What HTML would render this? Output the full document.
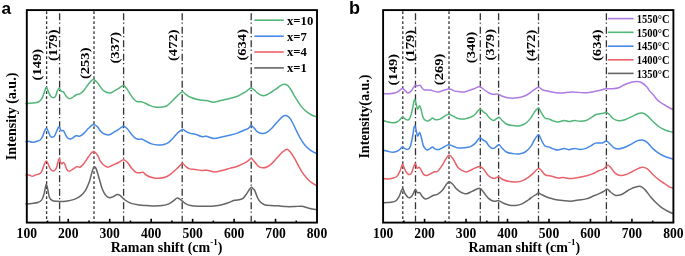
<!DOCTYPE html>
<html><head><meta charset="utf-8"><style>
html,body{margin:0;padding:0;background:#fff;width:685px;height:256px;overflow:hidden;}
svg{display:block;will-change:transform;}
</style></head><body>
<svg width="685" height="256" viewBox="0 0 685 256">
<rect width="685" height="256" fill="#fff"/>
<line x1="46.6" y1="11.2" x2="46.6" y2="221.79999999999998" stroke="#333" stroke-width="1.3" stroke-dasharray="2.7,2.3"/>
<line x1="59.6" y1="13.3" x2="59.6" y2="221.79999999999998" stroke="#333" stroke-width="1.3" stroke-dasharray="7,2.3,1.2,3"/>
<line x1="94.0" y1="11.2" x2="94.0" y2="221.79999999999998" stroke="#333" stroke-width="1.3" stroke-dasharray="2.7,2.3"/>
<line x1="123.6" y1="13.3" x2="123.6" y2="221.79999999999998" stroke="#333" stroke-width="1.3" stroke-dasharray="7,2.3,1.2,3"/>
<line x1="182.2" y1="13.3" x2="182.2" y2="221.79999999999998" stroke="#333" stroke-width="1.3" stroke-dasharray="7,2.3,1.2,3"/>
<line x1="251.2" y1="13.3" x2="251.2" y2="221.79999999999998" stroke="#333" stroke-width="1.3" stroke-dasharray="7,2.3,1.2,3"/>
<line x1="402.8" y1="11.2" x2="402.8" y2="221.79999999999998" stroke="#333" stroke-width="1.3" stroke-dasharray="2.7,2.3"/>
<line x1="415.5" y1="13.3" x2="415.5" y2="221.79999999999998" stroke="#333" stroke-width="1.3" stroke-dasharray="7,2.3,1.2,3"/>
<line x1="449.0" y1="11.2" x2="449.0" y2="221.79999999999998" stroke="#333" stroke-width="1.3" stroke-dasharray="2.7,2.3"/>
<line x1="480.3" y1="13.3" x2="480.3" y2="221.79999999999998" stroke="#333" stroke-width="1.3" stroke-dasharray="7,2.3,1.2,3"/>
<line x1="498.6" y1="13.3" x2="498.6" y2="221.79999999999998" stroke="#333" stroke-width="1.3" stroke-dasharray="7,2.3,1.2,3"/>
<line x1="538.5" y1="13.3" x2="538.5" y2="221.79999999999998" stroke="#333" stroke-width="1.3" stroke-dasharray="7,2.3,1.2,3"/>
<line x1="606.4" y1="13.3" x2="606.4" y2="221.79999999999998" stroke="#333" stroke-width="1.3" stroke-dasharray="7,2.3,1.2,3"/>
<path d="M26.00,103.60 C27.05,103.52 30.22,103.37 32.30,103.10 C34.38,102.83 36.95,102.70 38.50,102.00 C40.05,101.30 40.68,100.33 41.60,98.90 C42.52,97.47 43.22,95.35 44.00,93.40 C44.78,91.45 45.52,87.32 46.30,87.20 C47.08,87.08 47.92,91.13 48.70,92.70 C49.48,94.27 50.23,95.75 51.00,96.60 C51.77,97.45 52.52,97.93 53.30,97.80 C54.08,97.67 55.04,96.92 55.70,95.80 C56.36,94.68 56.68,92.40 57.25,91.10 C57.82,89.80 58.44,88.00 59.10,88.00 C59.76,88.00 60.47,90.45 61.20,91.10 C61.93,91.75 62.73,91.12 63.50,91.90 C64.27,92.68 64.88,94.68 65.80,95.80 C66.72,96.92 67.95,98.27 69.00,98.60 C70.05,98.93 70.93,98.40 72.10,97.80 C73.27,97.20 74.57,95.73 76.00,95.00 C77.43,94.27 79.27,94.32 80.70,93.40 C82.13,92.48 83.30,91.07 84.60,89.50 C85.90,87.93 87.07,85.68 88.50,84.00 C89.93,82.32 91.63,79.52 93.20,79.40 C94.77,79.28 96.77,82.13 97.90,83.30 C99.03,84.47 99.13,85.23 100.00,86.40 C100.87,87.57 102.06,89.32 103.10,90.30 C104.14,91.28 105.07,91.85 106.25,92.30 C107.43,92.75 108.91,93.20 110.20,93.00 C111.49,92.80 112.58,91.87 114.00,91.10 C115.42,90.33 117.18,89.32 118.75,88.40 C120.32,87.48 122.09,85.60 123.40,85.60 C124.71,85.60 125.55,87.10 126.60,88.40 C127.65,89.70 128.53,91.65 129.70,93.40 C130.87,95.15 132.30,97.52 133.60,98.90 C134.90,100.28 136.20,101.23 137.50,101.70 C138.80,102.17 140.10,101.43 141.40,101.70 C142.70,101.97 143.87,102.65 145.30,103.30 C146.73,103.95 148.43,105.00 150.00,105.60 C151.57,106.20 153.13,106.63 154.70,106.90 C156.27,107.17 157.85,107.23 159.40,107.20 C160.95,107.17 162.70,106.97 164.00,106.70 C165.30,106.43 165.88,106.51 167.20,105.60 C168.52,104.69 170.33,102.75 171.90,101.25 C173.47,99.75 174.92,98.16 176.60,96.60 C178.28,95.04 180.45,92.27 182.00,91.90 C183.55,91.53 184.47,93.50 185.90,94.40 C187.33,95.30 188.52,96.42 190.60,97.30 C192.68,98.18 195.79,99.15 198.40,99.70 C201.01,100.25 203.65,100.18 206.25,100.60 C208.85,101.02 211.39,102.27 214.00,102.20 C216.61,102.13 219.28,100.80 221.90,100.20 C224.52,99.60 227.10,99.26 229.70,98.60 C232.30,97.94 235.16,97.22 237.50,96.25 C239.84,95.28 241.93,93.89 243.75,92.80 C245.57,91.71 247.18,90.48 248.40,89.70 C249.62,88.92 250.10,88.05 251.10,88.10 C252.10,88.15 253.33,89.17 254.40,90.00 C255.47,90.83 256.20,92.17 257.50,93.10 C258.80,94.03 260.63,95.33 262.20,95.60 C263.77,95.87 265.33,95.30 266.90,94.70 C268.47,94.10 270.04,92.97 271.60,92.00 C273.16,91.03 274.68,90.02 276.25,88.90 C277.82,87.78 279.57,86.08 281.00,85.30 C282.43,84.52 283.63,84.12 284.80,84.20 C285.97,84.28 286.82,84.62 288.00,85.80 C289.18,86.97 290.67,89.28 291.90,91.25 C293.13,93.22 293.84,95.07 295.40,97.60 C296.96,100.12 299.30,103.97 301.25,106.40 C303.20,108.83 305.31,110.73 307.10,112.20 C308.89,113.67 310.43,114.45 312.00,115.20 C313.57,115.95 315.75,116.45 316.50,116.70" fill="none" stroke="#52b678" stroke-width="1.5" stroke-linejoin="round" stroke-linecap="round"/>
<path d="M26.00,141.90 C26.52,141.79 28.06,141.18 29.10,141.25 C30.14,141.32 30.95,142.30 32.25,142.30 C33.55,142.30 35.59,141.63 36.90,141.25 C38.21,140.87 39.18,140.72 40.10,140.00 C41.02,139.28 41.68,138.33 42.40,136.90 C43.12,135.47 43.75,132.83 44.40,131.40 C45.05,129.97 45.72,128.43 46.30,128.30 C46.88,128.17 47.25,129.30 47.90,130.60 C48.55,131.90 49.42,135.00 50.20,136.10 C50.98,137.20 51.82,137.33 52.60,137.20 C53.38,137.07 54.12,136.53 54.90,135.30 C55.67,134.07 56.55,131.23 57.25,129.80 C57.95,128.37 58.44,126.57 59.10,126.70 C59.76,126.83 60.47,129.95 61.20,130.60 C61.93,131.25 62.73,129.82 63.50,130.60 C64.27,131.38 65.02,134.00 65.80,135.30 C66.58,136.60 67.28,137.83 68.20,138.40 C69.12,138.97 70.00,139.18 71.30,138.75 C72.60,138.32 74.57,136.24 76.00,135.80 C77.43,135.36 78.60,136.50 79.90,136.10 C81.20,135.70 82.37,134.70 83.80,133.40 C85.23,132.10 86.88,129.80 88.50,128.30 C90.12,126.80 91.93,124.58 93.50,124.40 C95.07,124.22 96.82,126.17 97.90,127.20 C98.98,128.23 99.13,129.57 100.00,130.60 C100.87,131.63 101.93,132.70 103.10,133.40 C104.27,134.10 105.82,134.62 107.00,134.80 C108.18,134.98 109.03,134.93 110.20,134.50 C111.37,134.07 112.58,133.05 114.00,132.20 C115.42,131.35 117.18,130.39 118.75,129.40 C120.32,128.41 121.98,126.36 123.40,126.25 C124.83,126.14 125.99,127.44 127.30,128.75 C128.61,130.06 129.93,132.54 131.25,134.10 C132.57,135.66 134.02,137.25 135.20,138.10 C136.38,138.95 137.13,139.02 138.30,139.20 C139.47,139.38 140.90,138.86 142.20,139.20 C143.50,139.54 144.53,140.47 146.10,141.25 C147.67,142.03 149.65,143.28 151.60,143.90 C153.55,144.53 155.73,144.92 157.80,145.00 C159.87,145.08 162.18,144.85 164.00,144.40 C165.82,143.95 167.18,143.42 168.75,142.30 C170.32,141.18 171.84,139.33 173.40,137.70 C174.96,136.07 176.53,133.87 178.10,132.50 C179.67,131.13 181.37,129.60 182.80,129.50 C184.23,129.40 185.40,131.25 186.70,131.90 C188.00,132.55 189.17,133.02 190.60,133.40 C192.03,133.78 193.47,133.67 195.30,134.20 C197.13,134.73 199.78,136.26 201.60,136.60 C203.42,136.94 204.18,135.95 206.25,136.25 C208.32,136.55 211.39,138.29 214.00,138.40 C216.61,138.51 219.28,137.42 221.90,136.90 C224.52,136.38 227.10,135.93 229.70,135.30 C232.30,134.67 235.16,133.93 237.50,133.10 C239.84,132.27 241.93,131.08 243.75,130.30 C245.57,129.52 247.18,129.18 248.40,128.40 C249.62,127.62 250.10,125.60 251.10,125.60 C252.10,125.60 253.33,127.35 254.40,128.40 C255.47,129.45 256.20,131.07 257.50,131.90 C258.80,132.73 260.63,133.33 262.20,133.40 C263.77,133.47 265.22,133.25 266.90,132.30 C268.58,131.35 270.48,129.52 272.30,127.70 C274.12,125.88 276.10,123.23 277.80,121.40 C279.50,119.57 281.20,117.67 282.50,116.70 C283.80,115.73 284.43,115.42 285.60,115.60 C286.77,115.78 288.32,116.57 289.50,117.80 C290.68,119.03 291.53,120.82 292.70,123.00 C293.87,125.18 295.20,128.28 296.50,130.90 C297.80,133.52 299.18,136.43 300.50,138.70 C301.82,140.97 303.10,142.87 304.40,144.50 C305.70,146.13 307.00,147.35 308.30,148.50 C309.60,149.65 310.83,150.60 312.20,151.40 C313.57,152.20 315.78,152.98 316.50,153.30" fill="none" stroke="#4789e6" stroke-width="1.5" stroke-linejoin="round" stroke-linecap="round"/>
<path d="M26.00,175.00 C26.52,175.00 28.06,174.79 29.10,175.00 C30.14,175.21 31.20,176.25 32.25,176.25 C33.30,176.25 34.23,175.39 35.40,175.00 C36.57,174.61 38.27,174.47 39.30,173.90 C40.33,173.33 40.82,173.03 41.60,171.60 C42.38,170.17 43.22,167.08 44.00,165.30 C44.78,163.52 45.52,160.90 46.30,160.90 C47.08,160.90 47.92,163.83 48.70,165.30 C49.48,166.77 50.10,168.78 51.00,169.70 C51.90,170.62 53.18,171.13 54.10,170.80 C55.02,170.47 55.67,169.71 56.50,167.70 C57.33,165.69 58.32,159.41 59.10,158.75 C59.88,158.09 60.47,163.12 61.20,163.75 C61.93,164.38 62.87,162.38 63.50,162.50 C64.13,162.62 64.48,163.38 65.00,164.50 C65.52,165.62 65.93,168.07 66.60,169.20 C67.27,170.32 67.95,171.25 69.00,171.25 C70.05,171.25 71.60,169.97 72.90,169.20 C74.20,168.42 75.63,166.93 76.80,166.60 C77.97,166.27 78.73,167.67 79.90,167.20 C81.07,166.72 82.37,165.50 83.80,163.75 C85.23,162.00 86.88,158.72 88.50,156.70 C90.12,154.67 91.93,151.73 93.50,151.60 C95.07,151.47 96.82,154.40 97.90,155.90 C98.98,157.40 99.13,159.17 100.00,160.60 C100.87,162.03 101.80,163.40 103.10,164.50 C104.40,165.60 106.23,167.07 107.80,167.20 C109.37,167.33 110.67,166.08 112.50,165.30 C114.33,164.52 116.93,163.42 118.75,162.50 C120.57,161.58 121.98,159.85 123.40,159.80 C124.83,159.75 125.99,160.88 127.30,162.20 C128.61,163.52 129.82,166.02 131.25,167.70 C132.68,169.38 134.34,171.45 135.90,172.30 C137.46,173.15 139.42,172.80 140.60,172.80 C141.78,172.80 141.95,171.85 143.00,172.30 C144.05,172.75 145.22,174.58 146.90,175.50 C148.58,176.42 151.02,177.33 153.10,177.80 C155.18,178.27 157.32,178.43 159.40,178.30 C161.48,178.17 163.78,177.65 165.60,177.00 C167.42,176.35 168.73,175.52 170.30,174.40 C171.87,173.28 173.57,171.60 175.00,170.30 C176.43,169.00 177.65,167.75 178.90,166.60 C180.15,165.45 181.33,163.40 182.50,163.40 C183.67,163.40 184.68,165.68 185.90,166.60 C187.12,167.52 188.23,168.43 189.80,168.90 C191.37,169.37 193.33,169.13 195.30,169.40 C197.27,169.67 199.65,170.37 201.60,170.50 C203.55,170.63 204.80,169.95 207.00,170.20 C209.20,170.45 212.32,171.95 214.80,172.00 C217.28,172.05 219.42,171.10 221.90,170.50 C224.38,169.90 227.10,169.11 229.70,168.40 C232.30,167.69 234.90,167.20 237.50,166.25 C240.10,165.30 243.53,163.61 245.30,162.70 C247.07,161.79 247.11,161.48 248.10,160.80 C249.09,160.12 250.20,158.47 251.25,158.60 C252.30,158.73 253.22,160.32 254.40,161.60 C255.58,162.88 257.00,165.22 258.30,166.25 C259.60,167.28 260.77,167.68 262.20,167.80 C263.63,167.93 265.22,167.78 266.90,167.00 C268.58,166.22 270.48,164.78 272.30,163.10 C274.12,161.42 275.97,158.85 277.80,156.90 C279.63,154.95 281.68,152.65 283.30,151.40 C284.92,150.15 286.20,149.13 287.50,149.40 C288.80,149.67 289.85,151.37 291.10,153.00 C292.35,154.63 293.77,157.05 295.00,159.20 C296.23,161.35 297.27,163.65 298.50,165.90 C299.73,168.15 301.10,170.75 302.40,172.70 C303.70,174.65 305.00,176.13 306.30,177.60 C307.60,179.07 308.50,180.13 310.20,181.50 C311.90,182.87 315.45,185.08 316.50,185.80" fill="none" stroke="#eb6169" stroke-width="1.5" stroke-linejoin="round" stroke-linecap="round"/>
<path d="M26.00,204.00 C26.98,203.90 29.95,203.65 31.90,203.40 C33.85,203.15 36.08,203.05 37.70,202.50 C39.32,201.95 40.55,201.47 41.60,200.10 C42.65,198.73 43.35,196.48 44.00,194.30 C44.65,192.12 45.10,188.65 45.50,187.00 C45.90,185.35 46.07,184.27 46.40,184.40 C46.73,184.53 47.00,185.67 47.50,187.80 C48.00,189.93 48.60,195.08 49.40,197.20 C50.20,199.32 51.00,199.82 52.30,200.50 C53.60,201.18 55.40,201.13 57.20,201.30 C59.00,201.47 61.15,201.60 63.10,201.50 C65.05,201.40 66.95,201.10 68.90,200.70 C70.85,200.30 72.85,199.92 74.80,199.10 C76.75,198.28 78.82,197.25 80.60,195.80 C82.38,194.35 84.03,192.77 85.50,190.40 C86.97,188.03 88.27,184.85 89.40,181.60 C90.53,178.35 91.48,173.33 92.30,170.90 C93.12,168.47 93.65,167.33 94.30,167.00 C94.95,166.67 95.38,166.95 96.20,168.90 C97.02,170.85 98.18,175.33 99.20,178.70 C100.22,182.07 101.25,186.38 102.30,189.10 C103.35,191.82 104.32,193.57 105.50,195.00 C106.68,196.43 108.10,197.43 109.40,197.70 C110.70,197.97 112.00,197.13 113.30,196.60 C114.60,196.07 116.03,194.67 117.20,194.50 C118.37,194.33 119.00,194.68 120.30,195.60 C121.60,196.52 123.17,198.70 125.00,200.00 C126.83,201.30 128.92,202.57 131.25,203.40 C133.58,204.23 136.39,204.65 139.00,205.00 C141.61,205.35 144.28,205.35 146.90,205.50 C149.52,205.65 152.10,205.90 154.70,205.90 C157.30,205.90 160.16,205.83 162.50,205.50 C164.84,205.17 166.93,204.68 168.75,203.90 C170.57,203.12 171.94,201.77 173.40,200.80 C174.86,199.83 176.07,198.10 177.50,198.10 C178.93,198.10 180.60,199.83 182.00,200.80 C183.40,201.77 184.47,203.12 185.90,203.90 C187.33,204.68 188.52,205.11 190.60,205.50 C192.68,205.89 195.79,206.12 198.40,206.25 C201.01,206.38 203.65,206.31 206.25,206.25 C208.85,206.19 211.39,206.16 214.00,205.90 C216.61,205.64 219.55,205.22 221.90,204.70 C224.25,204.18 226.02,203.53 228.10,202.80 C230.18,202.07 232.58,200.82 234.40,200.30 C236.22,199.78 237.57,200.02 239.00,199.70 C240.43,199.38 241.68,199.45 243.00,198.40 C244.32,197.35 245.78,194.97 246.90,193.40 C248.02,191.83 248.93,190.02 249.70,189.00 C250.47,187.98 250.93,187.34 251.50,187.30 C252.07,187.26 252.55,188.20 253.10,188.75 C253.65,189.30 254.03,189.06 254.80,190.60 C255.57,192.14 256.73,196.05 257.70,198.00 C258.67,199.95 259.47,201.18 260.60,202.30 C261.73,203.42 262.87,204.15 264.50,204.70 C266.13,205.25 268.12,205.42 270.40,205.60 C272.68,205.78 275.60,205.63 278.20,205.80 C280.80,205.97 283.40,206.47 286.00,206.60 C288.60,206.73 291.20,206.67 293.80,206.60 C296.40,206.53 299.33,206.00 301.60,206.20 C303.87,206.40 305.62,207.32 307.40,207.80 C309.18,208.28 310.78,208.78 312.30,209.10 C313.82,209.42 315.80,209.60 316.50,209.70" fill="none" stroke="#656565" stroke-width="1.5" stroke-linejoin="round" stroke-linecap="round"/>
<path d="M383.00,93.75 C384.04,93.75 387.17,93.92 389.25,93.75 C391.33,93.58 393.81,93.23 395.50,92.70 C397.19,92.17 398.23,91.32 399.40,90.60 C400.57,89.88 401.45,88.32 402.50,88.40 C403.55,88.48 404.78,90.32 405.70,91.10 C406.62,91.88 407.10,93.10 408.00,93.10 C408.90,93.10 409.93,92.35 411.10,91.10 C412.27,89.85 413.95,86.43 415.00,85.60 C416.05,84.77 416.57,86.15 417.40,86.10 C418.23,86.05 419.22,84.98 420.00,85.30 C420.78,85.62 421.37,87.22 422.10,88.00 C422.83,88.78 423.10,89.67 424.40,90.00 C425.70,90.33 427.68,89.68 429.90,90.00 C432.12,90.32 435.37,91.85 437.70,91.90 C440.03,91.95 441.95,90.77 443.90,90.30 C445.85,89.83 447.57,88.97 449.40,89.10 C451.23,89.23 453.47,90.68 454.90,91.10 C456.33,91.52 456.44,91.47 458.00,91.60 C459.56,91.73 462.17,92.17 464.25,91.90 C466.33,91.63 468.68,90.58 470.50,90.00 C472.32,89.42 473.68,89.00 475.20,88.40 C476.72,87.80 478.17,86.22 479.60,86.40 C481.03,86.58 482.32,88.45 483.80,89.50 C485.28,90.55 487.07,91.92 488.50,92.70 C489.93,93.48 490.77,93.95 492.40,94.20 C494.03,94.45 496.62,93.86 498.30,94.20 C499.98,94.54 500.88,95.65 502.50,96.25 C504.12,96.85 506.04,97.49 508.00,97.80 C509.96,98.11 512.17,98.18 514.25,98.10 C516.33,98.02 518.42,97.82 520.50,97.30 C522.58,96.78 524.80,96.03 526.75,95.00 C528.70,93.97 530.64,92.20 532.20,91.10 C533.76,90.00 534.98,89.05 536.10,88.40 C537.22,87.75 537.85,86.98 538.90,87.20 C539.95,87.42 540.78,89.03 542.40,89.70 C544.02,90.38 545.73,90.68 548.60,91.25 C551.47,91.82 555.70,92.99 559.60,93.10 C563.50,93.21 568.10,91.95 572.00,91.90 C575.90,91.85 579.60,92.80 583.00,92.80 C586.40,92.80 589.53,92.32 592.40,91.90 C595.27,91.48 597.89,90.83 600.20,90.30 C602.51,89.77 604.20,89.01 606.25,88.75 C608.30,88.49 610.42,88.92 612.50,88.75 C614.58,88.58 616.67,88.41 618.75,87.70 C620.83,86.99 622.92,85.42 625.00,84.50 C627.08,83.58 629.30,82.72 631.25,82.20 C633.20,81.68 635.01,81.35 636.70,81.40 C638.39,81.45 639.70,81.58 641.40,82.50 C643.10,83.42 645.55,85.50 646.90,86.90 C648.25,88.30 648.47,89.63 649.50,90.90 C650.53,92.17 651.85,93.07 653.10,94.50 C654.35,95.93 655.64,98.08 657.00,99.50 C658.36,100.92 659.95,102.08 661.25,103.00 C662.55,103.92 663.82,104.42 664.80,105.00 C665.77,105.58 665.80,105.77 667.10,106.50 C668.40,107.23 671.68,108.92 672.60,109.40" fill="none" stroke="#ae7be2" stroke-width="1.5" stroke-linejoin="round" stroke-linecap="round"/>
<path d="M383.00,120.50 C383.78,120.75 386.13,121.62 387.70,122.00 C389.27,122.38 390.85,122.80 392.40,122.80 C393.95,122.80 395.70,122.57 397.00,122.00 C398.30,121.43 399.28,120.25 400.20,119.40 C401.12,118.55 401.72,116.98 402.50,116.90 C403.28,116.82 403.98,118.38 404.90,118.90 C405.82,119.42 407.10,120.28 408.00,120.00 C408.90,119.72 409.52,119.20 410.30,117.20 C411.08,115.20 412.12,110.53 412.70,108.00 C413.28,105.47 413.42,103.40 413.80,102.00 C414.18,100.60 414.60,99.27 415.00,99.60 C415.40,99.93 415.77,102.43 416.20,104.00 C416.63,105.57 417.02,108.68 417.60,109.00 C418.18,109.32 419.05,105.57 419.70,105.90 C420.35,106.23 420.92,109.02 421.50,111.00 C422.08,112.98 422.53,116.25 423.20,117.80 C423.87,119.35 424.65,119.78 425.50,120.30 C426.35,120.82 427.43,121.05 428.30,120.90 C429.17,120.75 429.97,119.87 430.70,119.40 C431.43,118.93 431.93,118.05 432.70,118.10 C433.47,118.15 434.21,119.48 435.30,119.70 C436.39,119.92 437.82,119.92 439.25,119.40 C440.68,118.88 442.34,117.47 443.90,116.60 C445.46,115.73 447.03,114.26 448.60,114.20 C450.17,114.14 451.73,115.55 453.30,116.25 C454.87,116.95 456.18,117.96 458.00,118.40 C459.82,118.84 462.17,119.08 464.25,118.90 C466.33,118.72 468.68,118.08 470.50,117.30 C472.32,116.52 473.68,115.57 475.20,114.20 C476.72,112.83 478.30,109.53 479.60,109.10 C480.90,108.67 481.92,110.82 483.00,111.60 C484.08,112.38 485.06,112.72 486.10,113.75 C487.14,114.78 488.07,116.67 489.25,117.80 C490.43,118.92 492.02,120.32 493.20,120.50 C494.38,120.68 495.33,119.43 496.30,118.90 C497.27,118.37 498.09,117.12 499.00,117.30 C499.91,117.48 500.52,118.88 501.75,120.00 C502.98,121.12 504.57,123.07 506.40,124.00 C508.22,124.93 510.62,125.28 512.70,125.60 C514.78,125.92 516.82,126.23 518.90,125.90 C520.98,125.57 523.23,124.90 525.20,123.60 C527.17,122.30 529.13,120.05 530.70,118.10 C532.27,116.15 533.30,113.58 534.60,111.90 C535.90,110.22 537.47,108.00 538.50,108.00 C539.53,108.00 539.77,110.27 540.80,111.90 C541.83,113.53 543.40,116.63 544.70,117.80 C546.00,118.97 547.17,118.38 548.60,118.90 C550.03,119.42 551.73,120.38 553.30,120.90 C554.87,121.42 556.17,122.07 558.00,122.00 C559.83,121.93 562.42,120.57 564.25,120.50 C566.08,120.43 567.31,121.60 569.00,121.60 C570.69,121.60 572.58,120.56 574.40,120.50 C576.22,120.44 577.95,121.25 579.90,121.25 C581.85,121.25 584.28,121.08 586.10,120.50 C587.92,119.92 589.23,118.77 590.80,117.80 C592.37,116.83 593.93,115.38 595.50,114.70 C597.07,114.03 598.93,113.97 600.20,113.75 C601.47,113.53 602.13,113.66 603.10,113.40 C604.07,113.14 604.95,112.02 606.00,112.20 C607.05,112.38 608.18,113.41 609.40,114.50 C610.62,115.59 611.74,117.70 613.30,118.75 C614.86,119.80 616.80,120.64 618.75,120.80 C620.70,120.96 622.92,120.35 625.00,119.70 C627.08,119.05 629.17,117.89 631.25,116.90 C633.33,115.91 635.67,114.40 637.50,113.75 C639.33,113.10 640.63,112.74 642.20,113.00 C643.77,113.26 645.08,113.87 646.90,115.30 C648.72,116.73 651.02,119.65 653.10,121.60 C655.18,123.55 657.32,125.57 659.40,127.00 C661.48,128.43 663.42,129.33 665.60,130.20 C667.78,131.07 671.35,131.87 672.50,132.20" fill="none" stroke="#52b678" stroke-width="1.5" stroke-linejoin="round" stroke-linecap="round"/>
<path d="M383.00,150.20 C383.78,150.38 386.13,150.92 387.70,151.25 C389.27,151.58 390.85,152.20 392.40,152.20 C393.95,152.20 395.70,151.77 397.00,151.25 C398.30,150.73 399.28,149.81 400.20,149.10 C401.12,148.39 401.72,147.08 402.50,147.00 C403.28,146.92 403.98,148.20 404.90,148.60 C405.82,149.00 407.10,149.73 408.00,149.40 C408.90,149.07 409.52,148.83 410.30,146.60 C411.08,144.37 412.12,139.03 412.70,136.00 C413.28,132.97 413.42,130.05 413.80,128.40 C414.18,126.75 414.60,125.75 415.00,126.10 C415.40,126.45 415.77,128.85 416.20,130.50 C416.63,132.15 417.02,135.65 417.60,136.00 C418.18,136.35 419.05,132.27 419.70,132.60 C420.35,132.93 420.92,135.87 421.50,138.00 C422.08,140.13 422.43,143.48 423.20,145.40 C423.97,147.32 425.25,148.78 426.10,149.50 C426.95,150.22 427.53,149.93 428.30,149.70 C429.07,149.47 429.97,148.55 430.70,148.10 C431.43,147.65 431.93,146.83 432.70,147.00 C433.47,147.17 434.21,148.70 435.30,149.10 C436.39,149.50 437.82,149.75 439.25,149.40 C440.68,149.05 442.34,147.78 443.90,147.00 C445.46,146.22 447.03,144.82 448.60,144.70 C450.17,144.57 451.73,145.70 453.30,146.25 C454.87,146.80 456.18,147.74 458.00,148.00 C459.82,148.26 462.17,148.03 464.25,147.80 C466.33,147.57 468.68,147.33 470.50,146.60 C472.32,145.87 473.68,144.83 475.20,143.40 C476.72,141.97 478.30,138.57 479.60,138.00 C480.90,137.43 481.92,139.35 483.00,140.00 C484.08,140.65 485.06,140.86 486.10,141.90 C487.14,142.94 488.15,145.13 489.25,146.25 C490.35,147.37 491.52,148.54 492.70,148.60 C493.88,148.66 495.25,147.25 496.30,146.60 C497.35,145.95 498.09,144.50 499.00,144.70 C499.91,144.90 500.52,146.58 501.75,147.80 C502.98,149.02 504.57,151.03 506.40,152.00 C508.22,152.97 510.62,153.27 512.70,153.60 C514.78,153.93 516.82,154.27 518.90,154.00 C520.98,153.73 523.23,153.23 525.20,152.00 C527.17,150.77 529.13,148.68 530.70,146.60 C532.27,144.52 533.30,141.47 534.60,139.50 C535.90,137.53 537.47,134.93 538.50,134.80 C539.53,134.68 539.77,136.92 540.80,138.75 C541.83,140.58 543.40,144.44 544.70,145.80 C546.00,147.16 547.17,146.38 548.60,146.90 C550.03,147.42 551.73,148.38 553.30,148.90 C554.87,149.42 556.17,150.05 558.00,150.00 C559.83,149.95 562.42,148.65 564.25,148.60 C566.08,148.55 567.31,149.73 569.00,149.70 C570.69,149.67 572.58,148.45 574.40,148.40 C576.22,148.35 577.95,149.40 579.90,149.40 C581.85,149.40 584.28,149.00 586.10,148.40 C587.92,147.80 589.23,146.68 590.80,145.80 C592.37,144.92 593.93,143.55 595.50,143.10 C597.07,142.65 598.93,143.17 600.20,143.10 C601.47,143.03 602.09,143.03 603.10,142.70 C604.11,142.37 605.20,140.98 606.25,141.10 C607.30,141.22 608.11,142.28 609.40,143.40 C610.69,144.52 612.44,146.88 614.00,147.80 C615.56,148.72 616.92,148.98 618.75,148.90 C620.58,148.82 622.92,148.08 625.00,147.30 C627.08,146.52 629.17,145.32 631.25,144.20 C633.33,143.08 635.67,141.30 637.50,140.60 C639.33,139.90 640.63,139.73 642.20,140.00 C643.77,140.27 645.08,140.72 646.90,142.20 C648.72,143.68 651.02,147.00 653.10,148.90 C655.18,150.80 657.32,152.30 659.40,153.60 C661.48,154.90 663.42,155.82 665.60,156.70 C667.78,157.58 671.35,158.53 672.50,158.90" fill="none" stroke="#4789e6" stroke-width="1.5" stroke-linejoin="round" stroke-linecap="round"/>
<path d="M383.00,178.30 C383.78,178.42 386.13,179.00 387.70,179.00 C389.27,179.00 390.85,178.76 392.40,178.30 C393.95,177.84 395.70,177.55 397.00,176.25 C398.30,174.95 399.28,172.51 400.20,170.50 C401.12,168.49 401.72,164.33 402.50,164.20 C403.28,164.07 403.98,168.05 404.90,169.70 C405.82,171.35 406.97,173.45 408.00,174.10 C409.03,174.75 410.18,174.73 411.10,173.60 C412.02,172.47 412.80,169.00 413.50,167.30 C414.20,165.60 414.72,163.27 415.30,163.40 C415.88,163.53 416.34,167.45 417.00,168.10 C417.66,168.75 418.53,166.90 419.25,167.30 C419.97,167.70 420.57,169.32 421.30,170.50 C422.03,171.68 422.69,173.55 423.60,174.40 C424.51,175.25 425.70,175.65 426.75,175.60 C427.80,175.55 428.72,174.70 429.90,174.10 C431.07,173.50 432.50,172.47 433.80,172.00 C435.10,171.53 436.27,172.42 437.70,171.25 C439.13,170.08 441.10,166.96 442.40,165.00 C443.70,163.04 444.42,161.12 445.50,159.50 C446.58,157.88 447.73,155.55 448.90,155.30 C450.07,155.05 451.25,156.38 452.50,158.00 C453.75,159.62 455.48,163.42 456.40,165.00 C457.32,166.58 457.08,166.62 458.00,167.50 C458.92,168.38 460.47,169.57 461.90,170.30 C463.33,171.03 464.92,172.03 466.60,171.90 C468.28,171.77 469.83,170.42 472.00,169.50 C474.17,168.58 477.63,166.40 479.60,166.40 C481.57,166.40 482.32,167.93 483.80,169.50 C485.28,171.07 486.82,174.32 488.50,175.80 C490.18,177.28 492.22,178.22 493.90,178.40 C495.58,178.58 497.03,176.68 498.60,176.90 C500.17,177.12 501.47,178.92 503.30,179.70 C505.13,180.48 507.52,181.22 509.60,181.60 C511.68,181.98 513.73,182.12 515.80,182.00 C517.87,181.88 519.92,181.68 522.00,180.90 C524.08,180.12 526.33,178.67 528.30,177.30 C530.27,175.93 532.50,173.87 533.80,172.70 C535.10,171.53 535.25,171.02 536.10,170.30 C536.95,169.58 537.98,168.32 538.90,168.40 C539.82,168.48 540.50,169.70 541.60,170.80 C542.70,171.90 543.81,174.09 545.50,175.00 C547.19,175.91 549.67,175.73 551.75,176.25 C553.83,176.77 556.04,177.89 558.00,178.10 C559.96,178.31 561.55,177.42 563.50,177.50 C565.45,177.58 567.49,178.55 569.70,178.60 C571.91,178.65 574.27,178.19 576.75,177.80 C579.23,177.41 581.99,176.90 584.60,176.25 C587.21,175.60 590.07,174.81 592.40,173.90 C594.73,172.99 596.78,171.58 598.60,170.80 C600.42,170.02 601.77,170.13 603.30,169.20 C604.83,168.27 606.53,165.45 607.80,165.20 C609.07,164.95 609.73,166.43 610.90,167.70 C612.07,168.97 613.23,171.50 614.80,172.80 C616.37,174.10 618.33,175.23 620.30,175.50 C622.27,175.77 624.52,175.11 626.60,174.40 C628.68,173.69 630.73,172.30 632.80,171.25 C634.87,170.20 637.30,168.78 639.00,168.10 C640.70,167.42 641.55,167.02 643.00,167.20 C644.45,167.38 646.02,167.95 647.70,169.20 C649.38,170.45 651.15,172.87 653.10,174.70 C655.05,176.53 657.45,178.69 659.40,180.20 C661.35,181.71 663.18,182.63 664.80,183.75 C666.42,184.87 667.82,186.19 669.10,186.90 C670.38,187.61 671.93,187.82 672.50,188.00" fill="none" stroke="#eb6169" stroke-width="1.5" stroke-linejoin="round" stroke-linecap="round"/>
<path d="M383.00,202.80 C383.78,202.75 386.13,202.63 387.70,202.50 C389.27,202.37 390.97,202.33 392.40,202.00 C393.83,201.67 395.13,201.53 396.30,200.50 C397.47,199.47 398.37,197.76 399.40,195.80 C400.43,193.84 401.58,189.15 402.50,188.75 C403.42,188.35 403.98,191.97 404.90,193.40 C405.82,194.83 406.97,196.72 408.00,197.30 C409.03,197.88 410.18,197.60 411.10,196.90 C412.02,196.20 412.80,194.33 413.50,193.10 C414.20,191.87 414.65,189.57 415.30,189.50 C415.95,189.43 416.67,192.17 417.40,192.70 C418.13,193.23 418.92,192.11 419.70,192.70 C420.48,193.29 421.18,195.22 422.10,196.25 C423.02,197.28 424.03,198.64 425.20,198.90 C426.37,199.16 427.80,198.37 429.10,197.80 C430.40,197.23 431.57,196.10 433.00,195.50 C434.43,194.90 436.13,195.07 437.70,194.20 C439.27,193.33 441.10,191.73 442.40,190.30 C443.70,188.87 444.42,187.03 445.50,185.60 C446.58,184.17 447.73,181.97 448.90,181.70 C450.07,181.43 451.25,182.82 452.50,184.00 C453.75,185.18 455.10,187.43 456.40,188.75 C457.70,190.07 459.20,191.18 460.30,191.90 C461.40,192.62 461.95,192.79 463.00,193.10 C464.05,193.41 465.10,194.03 466.60,193.75 C468.10,193.47 469.83,192.31 472.00,191.40 C474.17,190.49 477.63,188.12 479.60,188.30 C481.57,188.48 482.32,190.82 483.80,192.50 C485.28,194.18 486.82,196.94 488.50,198.40 C490.18,199.86 492.22,200.85 493.90,201.25 C495.58,201.65 497.03,200.49 498.60,200.80 C500.17,201.11 501.47,202.37 503.30,203.10 C505.13,203.83 507.52,204.80 509.60,205.20 C511.68,205.60 513.73,205.72 515.80,205.50 C517.87,205.28 519.92,204.82 522.00,203.90 C524.08,202.98 526.38,201.32 528.30,200.00 C530.22,198.68 532.20,196.88 533.50,196.00 C534.80,195.12 535.27,195.18 536.10,194.70 C536.93,194.22 537.45,193.05 538.50,193.10 C539.55,193.15 540.72,194.22 542.40,195.00 C544.08,195.78 546.52,197.07 548.60,197.80 C550.68,198.53 552.55,198.95 554.90,199.40 C557.25,199.85 560.10,200.19 562.70,200.50 C565.30,200.81 567.90,201.33 570.50,201.25 C573.10,201.17 575.70,200.39 578.30,200.00 C580.90,199.61 583.50,199.60 586.10,198.90 C588.70,198.20 591.55,196.77 593.90,195.80 C596.25,194.83 598.50,193.88 600.20,193.10 C601.90,192.32 602.92,191.73 604.10,191.10 C605.28,190.47 606.23,189.15 607.30,189.30 C608.37,189.45 609.12,190.97 610.50,192.00 C611.88,193.03 613.77,195.08 615.60,195.50 C617.43,195.92 619.55,195.25 621.50,194.50 C623.45,193.75 625.35,192.13 627.30,191.00 C629.25,189.87 631.08,188.50 633.20,187.70 C635.32,186.90 638.05,185.88 640.00,186.20 C641.95,186.52 643.12,187.82 644.90,189.60 C646.68,191.38 648.75,194.62 650.70,196.90 C652.65,199.18 654.65,201.42 656.60,203.30 C658.55,205.18 660.45,206.83 662.40,208.20 C664.35,209.57 666.62,210.63 668.30,211.50 C669.98,212.37 671.80,213.08 672.50,213.40" fill="none" stroke="#656565" stroke-width="1.5" stroke-linejoin="round" stroke-linecap="round"/>
<rect x="26.8" y="10.1" width="290.20" height="212.50" fill="none" stroke="#000" stroke-width="1.9"/>
<line x1="47.53" y1="222.6" x2="47.53" y2="220.60" stroke="#000" stroke-width="1.6"/>
<line x1="68.26" y1="222.6" x2="68.26" y2="218.80" stroke="#000" stroke-width="1.6"/>
<line x1="88.99" y1="222.6" x2="88.99" y2="220.60" stroke="#000" stroke-width="1.6"/>
<line x1="109.71" y1="222.6" x2="109.71" y2="218.80" stroke="#000" stroke-width="1.6"/>
<line x1="130.44" y1="222.6" x2="130.44" y2="220.60" stroke="#000" stroke-width="1.6"/>
<line x1="151.17" y1="222.6" x2="151.17" y2="218.80" stroke="#000" stroke-width="1.6"/>
<line x1="171.90" y1="222.6" x2="171.90" y2="220.60" stroke="#000" stroke-width="1.6"/>
<line x1="192.63" y1="222.6" x2="192.63" y2="218.80" stroke="#000" stroke-width="1.6"/>
<line x1="213.36" y1="222.6" x2="213.36" y2="220.60" stroke="#000" stroke-width="1.6"/>
<line x1="234.09" y1="222.6" x2="234.09" y2="218.80" stroke="#000" stroke-width="1.6"/>
<line x1="254.81" y1="222.6" x2="254.81" y2="220.60" stroke="#000" stroke-width="1.6"/>
<line x1="275.54" y1="222.6" x2="275.54" y2="218.80" stroke="#000" stroke-width="1.6"/>
<line x1="296.27" y1="222.6" x2="296.27" y2="220.60" stroke="#000" stroke-width="1.6"/>
<text x="26.80" y="238.1" font-family='"Liberation Serif", serif' font-weight="bold" font-size="13.6" text-anchor="middle">100</text>
<text x="68.26" y="238.1" font-family='"Liberation Serif", serif' font-weight="bold" font-size="13.6" text-anchor="middle">200</text>
<text x="109.71" y="238.1" font-family='"Liberation Serif", serif' font-weight="bold" font-size="13.6" text-anchor="middle">300</text>
<text x="151.17" y="238.1" font-family='"Liberation Serif", serif' font-weight="bold" font-size="13.6" text-anchor="middle">400</text>
<text x="192.63" y="238.1" font-family='"Liberation Serif", serif' font-weight="bold" font-size="13.6" text-anchor="middle">500</text>
<text x="234.09" y="238.1" font-family='"Liberation Serif", serif' font-weight="bold" font-size="13.6" text-anchor="middle">600</text>
<text x="275.54" y="238.1" font-family='"Liberation Serif", serif' font-weight="bold" font-size="13.6" text-anchor="middle">700</text>
<text x="317.00" y="238.1" font-family='"Liberation Serif", serif' font-weight="bold" font-size="13.6" text-anchor="middle">800</text>
<rect x="383.1" y="10.1" width="290.30" height="212.50" fill="none" stroke="#000" stroke-width="1.9"/>
<line x1="403.84" y1="222.6" x2="403.84" y2="220.60" stroke="#000" stroke-width="1.6"/>
<line x1="424.57" y1="222.6" x2="424.57" y2="218.80" stroke="#000" stroke-width="1.6"/>
<line x1="445.31" y1="222.6" x2="445.31" y2="220.60" stroke="#000" stroke-width="1.6"/>
<line x1="466.04" y1="222.6" x2="466.04" y2="218.80" stroke="#000" stroke-width="1.6"/>
<line x1="486.78" y1="222.6" x2="486.78" y2="220.60" stroke="#000" stroke-width="1.6"/>
<line x1="507.51" y1="222.6" x2="507.51" y2="218.80" stroke="#000" stroke-width="1.6"/>
<line x1="528.25" y1="222.6" x2="528.25" y2="220.60" stroke="#000" stroke-width="1.6"/>
<line x1="548.99" y1="222.6" x2="548.99" y2="218.80" stroke="#000" stroke-width="1.6"/>
<line x1="569.72" y1="222.6" x2="569.72" y2="220.60" stroke="#000" stroke-width="1.6"/>
<line x1="590.46" y1="222.6" x2="590.46" y2="218.80" stroke="#000" stroke-width="1.6"/>
<line x1="611.19" y1="222.6" x2="611.19" y2="220.60" stroke="#000" stroke-width="1.6"/>
<line x1="631.93" y1="222.6" x2="631.93" y2="218.80" stroke="#000" stroke-width="1.6"/>
<line x1="652.66" y1="222.6" x2="652.66" y2="220.60" stroke="#000" stroke-width="1.6"/>
<text x="383.10" y="238.1" font-family='"Liberation Serif", serif' font-weight="bold" font-size="13.6" text-anchor="middle">100</text>
<text x="424.57" y="238.1" font-family='"Liberation Serif", serif' font-weight="bold" font-size="13.6" text-anchor="middle">200</text>
<text x="466.04" y="238.1" font-family='"Liberation Serif", serif' font-weight="bold" font-size="13.6" text-anchor="middle">300</text>
<text x="507.51" y="238.1" font-family='"Liberation Serif", serif' font-weight="bold" font-size="13.6" text-anchor="middle">400</text>
<text x="548.99" y="238.1" font-family='"Liberation Serif", serif' font-weight="bold" font-size="13.6" text-anchor="middle">500</text>
<text x="590.46" y="238.1" font-family='"Liberation Serif", serif' font-weight="bold" font-size="13.6" text-anchor="middle">600</text>
<text x="631.93" y="238.1" font-family='"Liberation Serif", serif' font-weight="bold" font-size="13.6" text-anchor="middle">700</text>
<text x="673.40" y="238.1" font-family='"Liberation Serif", serif' font-weight="bold" font-size="13.6" text-anchor="middle">800</text>
<text x="110.7" y="251.6" font-family='"Liberation Serif", serif' font-weight="bold" font-size="14">Raman shift (cm<tspan font-size="9" dy="-6.4">-1</tspan><tspan dy="6.4">)</tspan></text>
<text x="468.4" y="251.6" font-family='"Liberation Serif", serif' font-weight="bold" font-size="14">Raman shift (cm<tspan font-size="9" dy="-6.4">-1</tspan><tspan dy="6.4">)</tspan></text>
<text transform="translate(15.9,160.2) rotate(-90)" font-family='"Liberation Serif", serif' font-weight="bold" font-size="14">Intensity (a.u.)</text>
<text transform="translate(368.8,158.6) rotate(-90)" font-family='"Liberation Serif", serif' font-weight="bold" font-size="14">Intensity(a.u.)</text>
<text transform="translate(36.2,64.6) rotate(-90) scale(1,0.92)" font-family='"Liberation Serif", serif' font-weight="bold" font-size="14.6" text-anchor="middle" dy="5.1">(149)</text>
<text transform="translate(52.5,45.3) rotate(-90) scale(1,0.92)" font-family='"Liberation Serif", serif' font-weight="bold" font-size="14.6" text-anchor="middle" dy="5.1">(179)</text>
<text transform="translate(84.2,63.3) rotate(-90) scale(1,0.92)" font-family='"Liberation Serif", serif' font-weight="bold" font-size="14.6" text-anchor="middle" dy="5.1">(253)</text>
<text transform="translate(114.7,47.8) rotate(-90) scale(1,0.92)" font-family='"Liberation Serif", serif' font-weight="bold" font-size="14.6" text-anchor="middle" dy="5.1">(337)</text>
<text transform="translate(172.5,45.2) rotate(-90) scale(1,0.92)" font-family='"Liberation Serif", serif' font-weight="bold" font-size="14.6" text-anchor="middle" dy="5.1">(472)</text>
<text transform="translate(241.0,44.8) rotate(-90) scale(1,0.92)" font-family='"Liberation Serif", serif' font-weight="bold" font-size="14.6" text-anchor="middle" dy="5.1">(634)</text>
<text transform="translate(392.5,69.6) rotate(-90) scale(1,0.92)" font-family='"Liberation Serif", serif' font-weight="bold" font-size="14.6" text-anchor="middle" dy="5.1">(149)</text>
<text transform="translate(409.8,45.7) rotate(-90) scale(1,0.92)" font-family='"Liberation Serif", serif' font-weight="bold" font-size="14.6" text-anchor="middle" dy="5.1">(179)</text>
<text transform="translate(438.4,69.4) rotate(-90) scale(1,0.92)" font-family='"Liberation Serif", serif' font-weight="bold" font-size="14.6" text-anchor="middle" dy="5.1">(269)</text>
<text transform="translate(470.1,47.4) rotate(-90) scale(1,0.92)" font-family='"Liberation Serif", serif' font-weight="bold" font-size="14.6" text-anchor="middle" dy="5.1">(340)</text>
<text transform="translate(489.8,44.8) rotate(-90) scale(1,0.92)" font-family='"Liberation Serif", serif' font-weight="bold" font-size="14.6" text-anchor="middle" dy="5.1">(379)</text>
<text transform="translate(530.0,45.5) rotate(-90) scale(1,0.92)" font-family='"Liberation Serif", serif' font-weight="bold" font-size="14.6" text-anchor="middle" dy="5.1">(472)</text>
<text transform="translate(596.0,45.2) rotate(-90) scale(1,0.92)" font-family='"Liberation Serif", serif' font-weight="bold" font-size="14.6" text-anchor="middle" dy="5.1">(634)</text>
<line x1="254.3" y1="20.2" x2="283.8" y2="20.2" stroke="#52b678" stroke-width="1.6"/>
<text x="287.0" y="24.6" font-family='"Liberation Serif", serif' font-weight="bold" font-size="12.7">x=10</text>
<line x1="254.3" y1="36.2" x2="283.8" y2="36.2" stroke="#4789e6" stroke-width="1.6"/>
<text x="287.0" y="40.6" font-family='"Liberation Serif", serif' font-weight="bold" font-size="12.7">x=7</text>
<line x1="254.3" y1="52.0" x2="283.8" y2="52.0" stroke="#eb6169" stroke-width="1.6"/>
<text x="287.0" y="56.4" font-family='"Liberation Serif", serif' font-weight="bold" font-size="12.7">x=4</text>
<line x1="254.3" y1="67.9" x2="283.8" y2="67.9" stroke="#656565" stroke-width="1.6"/>
<text x="287.0" y="72.3" font-family='"Liberation Serif", serif' font-weight="bold" font-size="12.7">x=1</text>
<line x1="607.9" y1="18.6" x2="633.6" y2="18.6" stroke="#ae7be2" stroke-width="1.6"/>
<text x="636.8" y="22.8" font-family='"Liberation Serif", serif' font-weight="bold" font-size="12.2" textLength="32.8" lengthAdjust="spacingAndGlyphs">1550°C</text>
<line x1="607.9" y1="32.3" x2="633.6" y2="32.3" stroke="#52b678" stroke-width="1.6"/>
<text x="636.8" y="36.5" font-family='"Liberation Serif", serif' font-weight="bold" font-size="12.2" textLength="32.8" lengthAdjust="spacingAndGlyphs">1500°C</text>
<line x1="607.9" y1="46.2" x2="633.6" y2="46.2" stroke="#4789e6" stroke-width="1.6"/>
<text x="636.8" y="50.4" font-family='"Liberation Serif", serif' font-weight="bold" font-size="12.2" textLength="32.8" lengthAdjust="spacingAndGlyphs">1450°C</text>
<line x1="607.9" y1="59.8" x2="633.6" y2="59.8" stroke="#eb6169" stroke-width="1.6"/>
<text x="636.8" y="64.0" font-family='"Liberation Serif", serif' font-weight="bold" font-size="12.2" textLength="32.8" lengthAdjust="spacingAndGlyphs">1400°C</text>
<line x1="607.9" y1="73.4" x2="633.6" y2="73.4" stroke="#656565" stroke-width="1.6"/>
<text x="636.8" y="77.6" font-family='"Liberation Serif", serif' font-weight="bold" font-size="12.2" textLength="32.8" lengthAdjust="spacingAndGlyphs">1350°C</text>
<text x="1.5" y="13.7" font-family='"Liberation Sans", sans-serif' font-weight="bold" font-size="17.2">a</text>
<text x="348.9" y="14.0" font-family='"Liberation Sans", sans-serif' font-weight="bold" font-size="18">b</text>
</svg>
</body></html>
